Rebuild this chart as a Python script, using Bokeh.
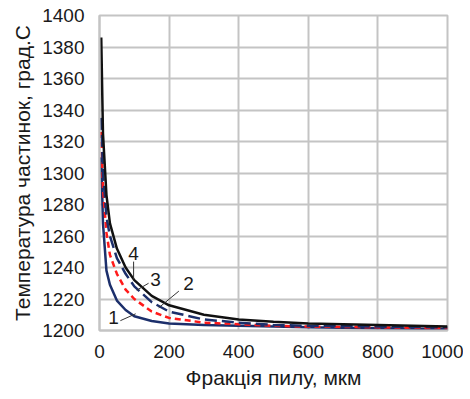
from bokeh.plotting import figure
from bokeh.models import Range1d, FixedTicker
from bokeh.embed import file_html
from bokeh.resources import INLINE

x = [5, 10, 20, 30, 50, 75, 100, 150, 200, 300, 400, 500, 600, 800, 1000]
t1 = [1310, 1268, 1238, 1229, 1219, 1213, 1209, 1206, 1204.5, 1203.5, 1203, 1202.5, 1202, 1201.5, 1201]
t2 = [1326, 1290, 1262, 1248, 1236, 1226, 1220, 1212, 1208, 1205, 1204, 1203, 1202.5, 1202, 1201.5]
t3 = [1335, 1300, 1272, 1260, 1246, 1236, 1228, 1218, 1212, 1207, 1205, 1203.5, 1203, 1202.5, 1202]
t4 = [1386, 1325, 1286, 1268, 1252, 1240, 1232, 1222, 1216, 1210, 1207, 1205.5, 1204.5, 1203.5, 1202.5]

x_ticks = [0, 200, 400, 600, 800, 1000]
y_ticks = [1200, 1220, 1240, 1260, 1280, 1300, 1320, 1340, 1360, 1380, 1400]

labels = ["1", "2", "3", "4"]
label_x = [40, 256, 161, 98]
label_y = [1208, 1230, 1232.5, 1248.75]
leader_x0 = [60, 228, 141, 98]
leader_y0 = [1206.25, 1225, 1230, 1243.75]
leader_x1 = [104, 170, 107, 98]
leader_y1 = [1210.6, 1214.4, 1225.6, 1232.5]

FONT = "Liberation Sans"
TXT = "#1a1a1a"
NAVY = "#1c2f6b"
GRID = "#c4c4c4"

p = figure(width=463, height=391, output_backend="svg", toolbar_location=None,
           x_range=Range1d(0, 1000), y_range=Range1d(1200, 1400),
           min_border_left=99, min_border_top=15, min_border_right=16, min_border_bottom=57)
p.background_fill_color = "white"
p.border_fill_color = "white"
p.outline_line_color = GRID
p.outline_line_width = 2

for ax in (p.xaxis[0], p.yaxis[0]):
    ax.axis_line_color = GRID
    ax.axis_line_width = 2
    ax.major_tick_line_color = None
    ax.minor_tick_line_color = None
    ax.major_label_text_font = FONT
    ax.major_label_text_font_size = "19px"
    ax.major_label_text_color = TXT
    ax.axis_label_text_font = FONT
    ax.axis_label_text_font_size = "21px"
    ax.axis_label_text_color = TXT
    ax.axis_label_text_font_style = "normal"

p.xaxis.ticker = FixedTicker(ticks=x_ticks)
p.yaxis.ticker = FixedTicker(ticks=y_ticks)
p.xaxis.axis_label = "Фракція пилу, мкм"
p.yaxis.axis_label = "Температура частинок, град.С"
p.xaxis.major_label_standoff = 8
p.yaxis.major_label_standoff = 9
p.xaxis.axis_label_standoff = 5
p.yaxis.axis_label_standoff = 5

p.xgrid.ticker = FixedTicker(ticks=x_ticks)
p.ygrid.ticker = FixedTicker(ticks=y_ticks)
p.grid.grid_line_color = GRID
p.grid.grid_line_width = 2

p.line(x, t1, line_color=NAVY, line_width=2.5)
p.line(x, t2, line_color="#ff1a1a", line_width=2.5, line_dash="6 4")
p.line(x, t3, line_color=NAVY, line_width=2.5, line_dash="12 5")
p.line(x, t4, line_color="#111111", line_width=2.5)

p.segment(leader_x0, leader_y0, leader_x1, leader_y1, line_color="#333333", line_width=1)
p.text(label_x, label_y, text=labels, text_font_size="19px", text_align="center",
       text_baseline="middle", text_color=TXT, text_font={"value": FONT})

open("out.html", "w").write(file_html(p, INLINE))
